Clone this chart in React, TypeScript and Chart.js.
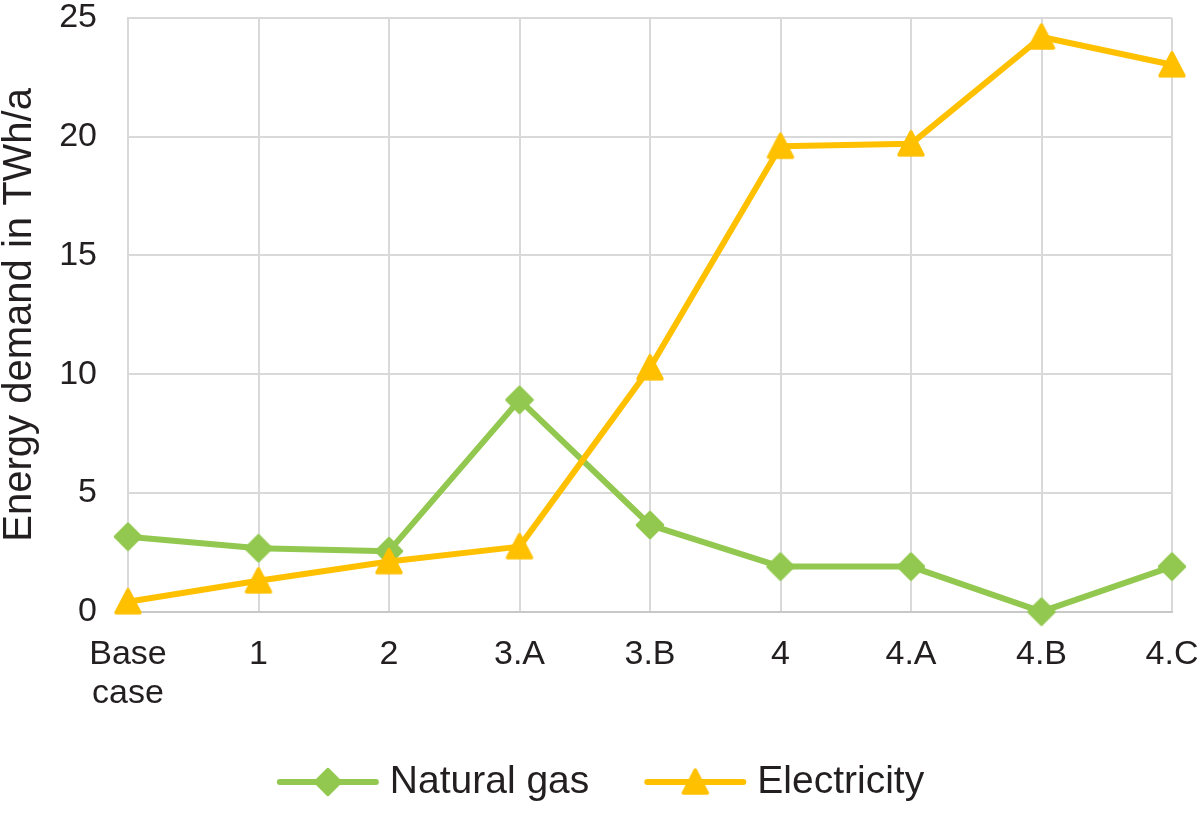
import React, { useEffect, useRef } from "react";
import { Chart, registerables } from "chart.js";

Chart.register(...registerables);

// ---- data ----
const categories: (string | string[])[] = [["Base", "case"], "1", "2", "3.A", "3.B", "4", "4.A", "4.B", "4.C"];
const naturalGas = [3.16, 2.67, 2.55, 8.92, 3.65, 1.9, 1.9, 0.0, 1.9];
const electricity = [0.42, 1.3, 2.11, 2.74, 10.27, 19.6, 19.7, 24.2, 23.03];
const yTicks = [0, 5, 10, 15, 20, 25];
const seriesNames = ["Natural gas", "Electricity"];
const yTitle = "Energy demand in TWh/a";

// ---- styles ----
const GREEN = "#92C84F";
const GOLD = "#FFC000";
const TEXT = "#231F20";
const GRID = "#D9D9D9";
const FONT = "'Liberation Sans', Arial, Helvetica, sans-serif";

function makeMarker(shape: "diamond" | "triangle", color: string): HTMLCanvasElement {
  const c = document.createElement("canvas");
  c.width = 30;
  c.height = 30;
  const g = c.getContext("2d")!;
  g.fillStyle = color;
  g.strokeStyle = color;
  g.lineJoin = "round";
  g.beginPath();
  if (shape === "diamond") {
    g.lineWidth = 2.5;
    g.moveTo(15, 2);
    g.lineTo(28, 15);
    g.lineTo(15, 28);
    g.lineTo(2, 15);
  } else {
    g.lineWidth = 3.5;
    g.moveTo(15, 3);
    g.lineTo(27, 26);
    g.lineTo(3, 26);
  }
  g.closePath();
  g.fill();
  g.stroke();
  return c;
}

const legendPlugin = {
  id: "lineMarkerLegend",
  afterDraw(chart: any) {
    const ctx: CanvasRenderingContext2D = chart.ctx;
    const lineLen = 102;
    const gapText = 11;
    const gapItem = 55;
    const y = 782;
    ctx.save();
    ctx.font = `39px ${FONT}`;
    const items = chart.data.datasets.map((ds: any) => ({
      label: ds.label as string,
      color: ds.borderColor as string,
      marker: ds.pointStyle as HTMLCanvasElement,
      w: ctx.measureText(ds.label).width,
    }));
    let total = 0;
    items.forEach((it: any, i: number) => {
      total += lineLen + gapText + it.w + (i > 0 ? gapItem : 0);
    });
    let x = (chart.width - total) / 2 + 0.5;
    items.forEach((it: any) => {
      ctx.strokeStyle = it.color;
      ctx.lineWidth = 6;
      ctx.lineCap = "round";
      ctx.beginPath();
      ctx.moveTo(x + 3, y);
      ctx.lineTo(x + lineLen - 3, y);
      ctx.stroke();
      const m = it.marker;
      ctx.drawImage(m, x + lineLen / 2 - m.width / 2, y - m.height / 2);
      ctx.fillStyle = TEXT;
      ctx.textBaseline = "middle";
      ctx.textAlign = "left";
      ctx.fillText(it.label, x + lineLen + gapText, y);
      x += lineLen + gapText + it.w + gapItem;
    });
    ctx.restore();
  },
};

export default function App() {
  const ref = useRef<HTMLCanvasElement | null>(null);

  useEffect(() => {
    if (!ref.current) return;
    const diamond = makeMarker("diamond", GREEN);
    const triangle = makeMarker("triangle", GOLD);

    const chart = new Chart(ref.current, {
      type: "line",
      data: {
        labels: categories as any,
        datasets: [
          {
            label: seriesNames[0],
            data: naturalGas,
            borderColor: GREEN,
            backgroundColor: GREEN,
            borderWidth: 6,
            borderJoinStyle: "round",
            pointStyle: diamond as any,
            pointRadius: 13,
            tension: 0,
            clip: false as any,
            order: 1,
          },
          {
            label: seriesNames[1],
            data: electricity,
            borderColor: GOLD,
            backgroundColor: GOLD,
            borderWidth: 6,
            borderJoinStyle: "round",
            pointStyle: triangle as any,
            pointRadius: 13,
            tension: 0,
            clip: false as any,
            order: 0,
          },
        ],
      },
      options: {
        responsive: false,
        animation: false,
        layout: { autoPadding: false, padding: { top: 18, right: 28, bottom: 0, left: 0 } },
        plugins: {
          legend: { display: false },
          tooltip: { enabled: false },
        },
        scales: {
          x: {
            type: "category",
            offset: false,
            grid: { color: GRID, lineWidth: 2, drawTicks: false, offset: false },
            border: { color: "#C8C8C8", width: 2 },
            ticks: {
              color: TEXT,
              font: { family: FONT, size: 34, lineHeight: 1.13 },
              padding: 24,
              maxRotation: 0,
              autoSkip: false,
            },
            afterFit: (s: any) => {
              s.height = 205.3;
              s.paddingLeft = 0;
              s.paddingRight = 0;
            },
          },
          y: {
            min: 0,
            max: 25,
            afterBuildTicks: (s: any) => {
              s.ticks = yTicks.map((v) => ({ value: v }));
            },
            grid: { color: GRID, lineWidth: 2, drawTicks: false },
            border: { color: GRID, width: 2 },
            ticks: {
              color: TEXT,
              font: { family: FONT, size: 34, lineHeight: 1 },
              padding: 31,
            },
            title: {
              display: true,
              text: yTitle,
              color: TEXT,
              font: { family: FONT, size: 40, lineHeight: 1 },
              padding: 0,
            },
            afterFit: (s: any) => {
              s.width = 128;
              s.paddingTop = 0;
              s.paddingBottom = 0;
            },
          },
        },
      },
      plugins: [legendPlugin],
    });

    return () => chart.destroy();
  }, []);

  return (
    <div style={{ position: "absolute", left: 0, top: 0, width: 1200, height: 817, background: "#fff" }}>
      <canvas ref={ref} width={1200} height={817} style={{ width: 1200, height: 817, display: "block" }} />
    </div>
  );
}
